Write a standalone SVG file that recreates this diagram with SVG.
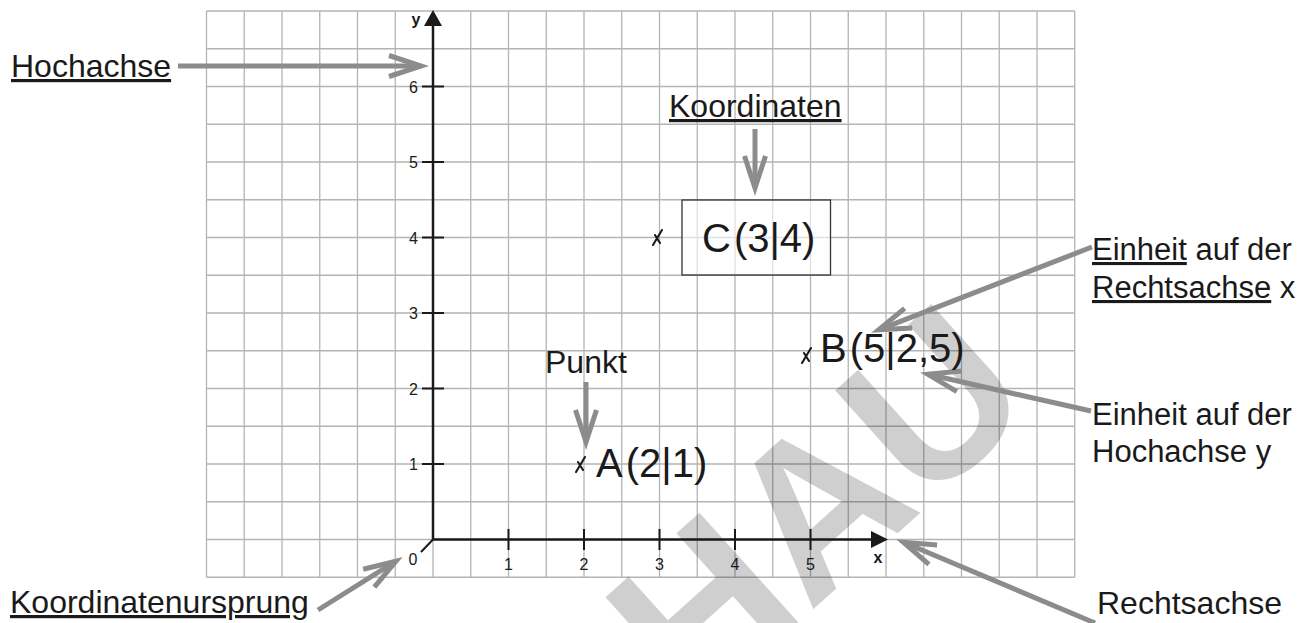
<svg xmlns="http://www.w3.org/2000/svg" xmlns:xlink="http://www.w3.org/1999/xlink" width="1311" height="623" viewBox="0 0 1311 623">
<style>
  .lbl { font-family: "Liberation Sans", Arial, sans-serif; font-size: 32px; fill: #1a1a1a; }
  .lbs { font-family: "Liberation Sans", Arial, sans-serif; font-size: 31px; fill: #1a1a1a; }
  .u { text-decoration: underline; }
  .pt { font-family: "Liberation Sans", Arial, sans-serif; font-size: 40px; fill: #1a1a1a; }
  .num { font-family: "Liberation Sans", Arial, sans-serif; font-size: 16px; fill: #1a1a1a; }
  .axl { font-family: "Liberation Sans", Arial, sans-serif; font-size: 16px; font-weight: bold; fill: #1a1a1a; }
  .grid { stroke: #b4b4b4; stroke-width: 1.3; fill: none; }
  .axis { stroke: #1a1a1a; stroke-width: 2.5; fill: none; }
  .tick { stroke: #1a1a1a; stroke-width: 2; fill: none; }
  .arr { stroke: #8c8c8c; stroke-width: 5; fill: none; marker-end: url(#chev); }
  .wm { font-family: "Liberation Sans", Arial, sans-serif; font-weight: bold; font-size: 215px; fill: #000; fill-opacity: 0.19; }
</style>
<defs>
  <marker id="chev" viewBox="-40 -16 52 32" refX="0" refY="0" markerWidth="52" markerHeight="32" markerUnits="userSpaceOnUse" orient="auto">
    <path d="M-32,-10.5 L0,0 L-32,10.5" fill="none" stroke="#8c8c8c" stroke-width="5" stroke-linejoin="miter"/>
  </marker>
  <path id="cross" d="M-5,7 L4,-8 M-3,-3 L2,5" fill="none" stroke="#1a1a1a" stroke-width="2.1" stroke-linecap="round"/>
</defs>
<rect width="1311" height="623" fill="#fff"/>

<g id="grid">
  <path class="grid" d="M206.5 11V577.25M244.25 11V577.25M282 11V577.25M319.75 11V577.25M357.5 11V577.25M395.25 11V577.25M433 11V577.25M470.75 11V577.25M508.5 11V577.25M546.25 11V577.25M584 11V577.25M621.75 11V577.25M659.5 11V577.25M697.25 11V577.25M735 11V577.25M772.75 11V577.25M810.5 11V577.25M848.25 11V577.25M886 11V577.25M923.75 11V577.25M961.5 11V577.25M999.25 11V577.25M1037 11V577.25M1074.75 11V577.25"/>
  <path class="grid" d="M206.5 11H1074.75M206.5 48.75H1074.75M206.5 86.5H1074.75M206.5 124.25H1074.75M206.5 162H1074.75M206.5 199.75H1074.75M206.5 237.5H1074.75M206.5 275.25H1074.75M206.5 313H1074.75M206.5 350.75H1074.75M206.5 388.5H1074.75M206.5 426.25H1074.75M206.5 464H1074.75M206.5 501.75H1074.75M206.5 539.5H1074.75M206.5 577.25H1074.75"/>
</g>

<g id="watermark">
  <text class="wm" x="1040" y="405" text-anchor="end" transform="rotate(-42 1040 405)">VORSCHAU</text>
</g>

<g id="axes">
  <path class="axis" d="M433 539.5V25M433 539.5H872"/>
  <polygon points="433,10 424,26 442,26" fill="#1a1a1a"/>
  <polygon points="888,539.5 871,531 871,548" fill="#1a1a1a"/>
  <path class="tick" d="M508.5 529V550M584 529V550M659.5 529V550M735 529V550M810.5 529V550"/>
  <path class="tick" d="M422 464H444M422 388.5H444M422 313H444M422 237.5H444M422 162H444M422 86.5H444"/>
  <path class="tick" d="M433 539.5L421 552"/>
  <text class="num" x="508.5" y="570" text-anchor="middle">1</text>
  <text class="num" x="584" y="570" text-anchor="middle">2</text>
  <text class="num" x="659.5" y="570" text-anchor="middle">3</text>
  <text class="num" x="735" y="570" text-anchor="middle">4</text>
  <text class="num" x="810.5" y="570" text-anchor="middle">5</text>
  <text class="num" x="418" y="470" text-anchor="end">1</text>
  <text class="num" x="418" y="394.5" text-anchor="end">2</text>
  <text class="num" x="418" y="319" text-anchor="end">3</text>
  <text class="num" x="418" y="243.5" text-anchor="end">4</text>
  <text class="num" x="418" y="168" text-anchor="end">5</text>
  <text class="num" x="418" y="92.5" text-anchor="end">6</text>
  <text class="num" x="413" y="565" text-anchor="middle">0</text>
  <text class="axl" x="878" y="563" text-anchor="middle">x</text>
  <text class="axl" x="416" y="25" text-anchor="middle">y</text>
</g>

<g id="connectors">
  <line class="arr" x1="178" y1="66" x2="421" y2="66"/>
  <line class="arr" x1="755" y1="129" x2="755" y2="188"/>
  <line class="arr" x1="586" y1="382" x2="586" y2="442"/>
  <line class="arr" x1="1092" y1="247" x2="878.6" y2="329.8"/>
  <line class="arr" x1="1091" y1="411" x2="927.9" y2="374.3"/>
  <line class="arr" x1="1095" y1="623" x2="903.5" y2="542.3"/>
  <line class="arr" x1="318" y1="610" x2="395.9" y2="561.2"/>
</g>

<g id="label-hochachse">
  <text class="lbl u" x="11" y="77">Hochachse</text>
</g>
<g id="label-koordinaten">
  <text class="lbl u" x="669" y="117">Koordinaten</text>
</g>
<g id="point-C">
  <rect x="682" y="200" width="148.5" height="75" fill="#fff" fill-opacity="0.6" stroke="#333" stroke-width="1.3"/>
  <use xlink:href="#cross" href="#cross" x="658" y="238"/>
  <text class="pt" x="702" y="252">C<tspan dx="3">(3|4)</tspan></text>
</g>
<g id="point-B">
  <use xlink:href="#cross" href="#cross" x="807" y="356"/>
  <text class="pt" x="820" y="362">B<tspan dx="3">(5|2,5)</tspan></text>
</g>
<g id="label-punkt">
  <text class="lbl" x="545" y="373">Punkt</text>
</g>
<g id="point-A">
  <use xlink:href="#cross" href="#cross" x="581" y="465"/>
  <text class="pt" x="596" y="477">A<tspan dx="3">(2|1)</tspan></text>
</g>
<g id="label-einheit-x">
  <text class="lbs" x="1092" y="260"><tspan class="u">Einheit</tspan> auf der</text>
  <text class="lbs" x="1092" y="298"><tspan class="u">Rechtsachse</tspan> x</text>
</g>
<g id="label-einheit-y">
  <text class="lbs" x="1092" y="425">Einheit auf der</text>
  <text class="lbs" x="1092" y="462">Hochachse y</text>
</g>
<g id="label-rechtsachse">
  <text class="lbl" x="1097" y="614">Rechtsachse</text>
</g>
<g id="label-ursprung">
  <text class="lbl u" x="10" y="613">Koordinatenursprung</text>
</g>
</svg>
